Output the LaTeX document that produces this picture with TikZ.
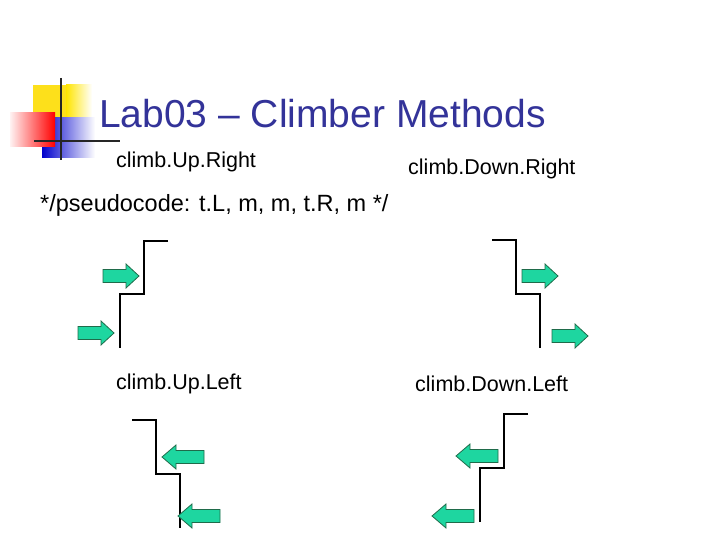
\documentclass[tikz,border=0pt]{standalone}
\usepackage{fontspec}
\setmainfont{Liberation Sans}
\definecolor{ttl}{HTML}{333399}
\definecolor{af}{HTML}{1ED6A0}
\definecolor{ad}{HTML}{1F6B4A}
\begin{document}
\begin{tikzpicture}[x=1pt,y=-1pt,
 stair/.style={draw=black,line width=1.1pt},
 lbl/.style={font=\fontsize{21.5}{24}\selectfont,anchor=west,inner sep=0},
 arr/.style={draw=ad,fill=af,line width=0.8pt}]
\useasboundingbox (0,0) rectangle (720,540);
% logo
\fill[yellow!80!orange!90] (33,85) rectangle (80,120);
\shade[left color=yellow!80!orange, right color=white] (66,85) rectangle (92,120);
\shade[left color=blue!80!black, right color=white] (42,118) rectangle (95,158);
\shade[left color=red!5, right color=red] (10,113) rectangle (55,147);
\draw[line width=1.5pt,black!85] (61,78) -- (61,160);
\draw[line width=1.5pt,black!85] (34,141) -- (120,141);
\node[anchor=west,inner sep=0,text=ttl,font=\fontsize{39}{42}\selectfont] (t) at (99,114) {Lab03 – Climber Methods};
\node[lbl] (l1) at (116,162) {climb.Up.Right};
\node[lbl] (l2) at (408,169) {climb.Down.Right};
\node[lbl,font=\fontsize{23.5}{26}\selectfont] (l3) at (40,205) {*/pseudocode: t.L, m, m, t.R, m */};
\node[lbl] (l4) at (116,384) {climb.Up.Left};
\node[lbl] (l5) at (415,384) {climb.Down.Left};
% stairs
\draw[stair] (168,241) -- (144,241) -- (144,294) -- (120,294) -- (120,348);
\draw[stair] (492,240) -- (516,240) -- (516,294) -- (540,294) -- (540,348);
\draw[stair] (132,420) -- (156,420) -- (156,474) -- (180,474) -- (180,528);
\draw[stair] (528,414) -- (504,414) -- (504,468) -- (480,468) -- (480,522);
% right arrows: tail x, center y
\foreach \x/\y in {103/276, 78/333, 522/276, 552/336}
 \draw[arr] (\x,\y-6.5) -- (\x+23,\y-6.5) -- (\x+23,\y-12) -- (\x+36,\y) -- (\x+23,\y+12) -- (\x+23,\y+6.5) -- (\x,\y+6.5) -- cycle;
% left arrows: tail x (right end), center y
\foreach \x/\y in {204/457, 220/516, 498/456, 474/516}
 \draw[arr] (\x,\y-6.5) -- (\x-28,\y-6.5) -- (\x-28,\y-12) -- (\x-42,\y) -- (\x-28,\y+12) -- (\x-28,\y+6.5) -- (\x,\y+6.5) -- cycle;
\end{tikzpicture}
\end{document}
